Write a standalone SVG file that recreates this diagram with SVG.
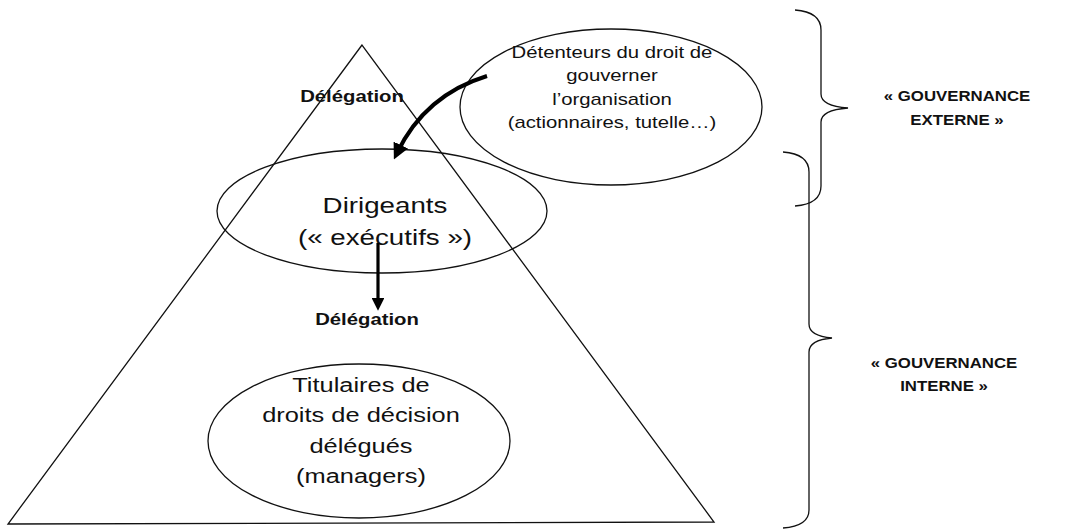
<svg xmlns="http://www.w3.org/2000/svg" width="1074" height="531" viewBox="0 0 1074 531">
  <style>
    .shape { fill: none; stroke: #111; stroke-width: 1.3; }
    .txt { font-family: "Liberation Sans", Arial, sans-serif; fill: #111; text-anchor: middle; }
    .big { font-size: 22px; }
    .body { font-size: 20px; }
    .mid { font-size: 16px; }
    .lbl { font-size: 16px; font-weight: bold; }
    .gov { font-size: 14px; font-weight: bold; }
    .arrow { fill: none; stroke: #000; }
  </style>
  <defs>
    <marker id="head" markerWidth="4" markerHeight="4" refX="2.2" refY="2" orient="auto" markerUnits="strokeWidth">
      <path d="M0,0 L4,2 L0,4 z" fill="#000"/>
    </marker>
  </defs>
  <rect width="1074" height="531" fill="#fff"/>

  <!-- pyramid -->
  <g id="pyramid">
    <polygon class="shape" points="362,45 8,524 714,522"/>
  </g>

  <!-- text blocks are set in a horizontally widened face -->
  <g id="holders">
    <ellipse class="shape" cx="611" cy="107" rx="151" ry="78"/>
    <g transform="translate(612 0) scale(1.27 1)">
      <text class="txt mid" x="0" y="58">Détenteurs du droit de</text>
      <text class="txt mid" x="0" y="81">gouverner</text>
      <text class="txt mid" x="0" y="105">l’organisation</text>
      <text class="txt mid" x="0" y="128">(actionnaires, tutelle…)</text>
    </g>
  </g>

  <g id="executives">
    <ellipse class="shape" cx="382" cy="211" rx="165" ry="62"/>
    <g transform="translate(385 0) scale(1.26 1)">
      <text class="txt big" x="0" y="213">Dirigeants</text>
      <text class="txt big" x="0" y="245">(« exécutifs »)</text>
    </g>
  </g>

  <g id="managers">
    <ellipse class="shape" cx="359" cy="441" rx="151" ry="77"/>
    <g transform="translate(361 0) scale(1.27 1)">
      <text class="txt body" x="0" y="392">Titulaires de</text>
      <text class="txt body" x="0" y="422">droits de décision</text>
      <text class="txt body" x="0" y="453">délégués</text>
      <text class="txt body" x="0" y="483">(managers)</text>
    </g>
  </g>

  <g id="delegation-labels">
    <g transform="translate(352 0) scale(1.27 1)">
      <text class="txt lbl" x="0" y="102">Délégation</text>
    </g>
    <g transform="translate(367 0) scale(1.27 1)">
      <text class="txt lbl" x="0" y="325">Délégation</text>
    </g>
  </g>

  <!-- delegation arrows -->
  <g id="connectors">
    <path class="arrow" stroke-width="4" d="M487,76 Q425,95 397,153" marker-end="url(#head)"/>
    <path class="arrow" stroke-width="3.2" d="M378,243 L378,305" marker-end="url(#head)"/>
  </g>

  <!-- braces -->
  <g id="external">
    <path class="shape" d="M795,10 Q821,12 821,30 L821,94 Q821,106 848,108 Q821,110 821,122 L821,186 Q821,204 795,206"/>
    <g transform="translate(957 0) scale(1.2 1)">
      <text class="txt gov" x="0" y="101">« GOUVERNANCE</text>
      <text class="txt gov" x="0" y="125">EXTERNE »</text>
    </g>
  </g>

  <g id="internal">
    <path class="shape" d="M783,152 Q809,154 809,172 L809,324 Q809,336 832,338 Q809,340 809,352 L809,510 Q809,526 783,528"/>
    <g transform="translate(944 0) scale(1.2 1)">
      <text class="txt gov" x="0" y="368">« GOUVERNANCE</text>
      <text class="txt gov" x="0" y="391">INTERNE »</text>
    </g>
  </g>
</svg>
